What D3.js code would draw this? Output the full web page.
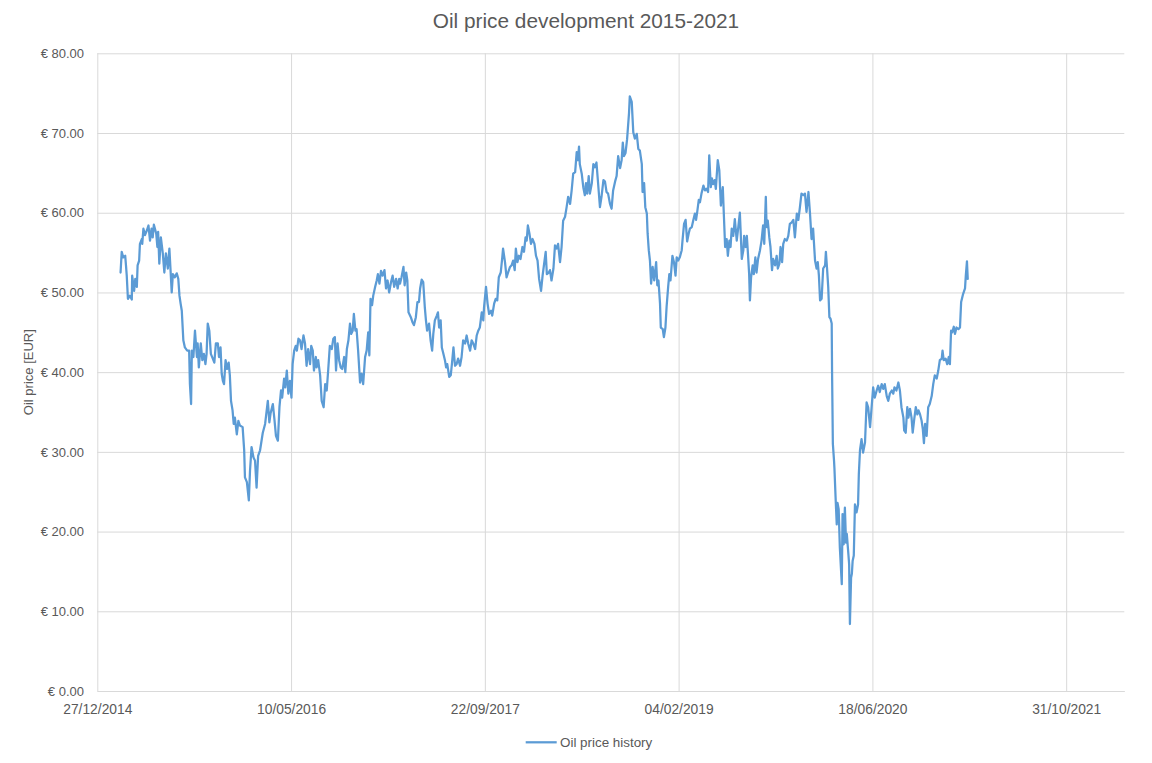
<!DOCTYPE html>
<html>
<head>
<meta charset="utf-8">
<script src="https://cdn.jsdelivr.net/npm/d3@7/dist/d3.min.js"></script>
<style>
  body { margin: 0; background: #ffffff; }
  svg { display: block; }
  text { font-family: 'Liberation Sans', Arial, sans-serif; fill: #595959; }
</style>
</head>
<body>
<svg id="chart" width="1152" height="763"></svg>
<script>
// ---------- data (dates as Excel serial numbers) ----------
const chartTitle = "Oil price development 2015-2021";
const yAxisTitle = "Oil price [EUR]";
const seriesName = "Oil price history";
const xTickSerials = [42000, 42500, 43000, 43500, 44000, 44500];
const yTickValues = [0, 10, 20, 30, 40, 50, 60, 70, 80];
const xDomainSerials = [42000, 44650];

const dateSerials = [
42060,42063,42067,42072,42074,42076,42079,42084,42089,42090,42095,42098,42102,42104,42108,42110,42115,42116,42119,42123,
42128,42132,42136,42140,42143,42146,42152,42155,42157,42160,42164,42169,42173,42177,42182,42186,42189,42192,42195,42200,
42205,42209,42212,42215,42218,42222,42226,42232,42237,42239,42242,42244,42248,42252,42257,42259,42262,42267,42271,42275,
42279,42282,42285,42289,42293,42298,42302,42306,42311,42314,42318,42321,42324,42327,42331,42335,42339,42342,42345,42349,
42352,42355,42360,42364,42368,42375,42379,42381,42386,42391,42394,42398,42403,42407,42411,42415,
42420,42427,42433,42440,42444,42447,42453,42457,42461,42466,42470,42474,42477,42482,42485,42489,42493,42497,42501,42504,
42508,42512,42515,42519,42523,42527,42532,42536,42540,42544,42549,42552,42556,42559,42564,42566,42570,42575,42579,42584,
42588,42592,42596,42600,42605,42609,42613,42616,42620,42624,42628,42632,42637,42640,42644,42648,42652,42655,42659,42662,
42666,42669,42673,42678,42682,42686,42691,42695,42699,42702,42705,42709,42712,42717,42721,42724,42728,42732,42736,42741,
42745,42749,42753,42758,42762,42766,42771,42775,42779,
42781,42785,42790,42793,42797,42800,42803,42809,42813,42817,42822,42826,42830,42833,42837,42841,42845,42848,42851,42856,
42860,42864,42867,42871,42876,42879,42882,42886,42889,42893,42897,42900,42903,42908,42912,42915,42919,42923,42927,42931,
42936,42940,42944,42949,42953,42957,42962,42966,42970,42975,42979,42983,42987,42992,42996,42998,43003,43007,43011,43016,
43019,43024,43028,43032,43036,43041,43045,43047,43052,43056,43060,43065,43069,43073,43077,43080,43084,43088,43092,43097,
43101,43105,43108,43111,43115,43119,43123,43128,43132,43136,43140,43145,43149,43153,43157,43160,43165,
43168,43172,43177,43181,43185,43189,43194,43198,43202,43207,43211,43215,43220,43224,43228,43233,43237,43240,43243,43245,
43250,43254,43258,43261,43264,43268,43271,43276,43280,43284,43288,43293,43297,43301,43306,43310,43314,43318,43323,43327,
43331,43336,43340,43344,43349,43353,43356,43359,43363,43367,43372,43374,43379,43383,43387,43392,43396,43400,43405,43407,
43411,43414,43418,43420,43423,43426,43429,43433,43437,43442,43445,43448,43452,43454,43459,43462,43466,43469,43473,43476,
43479,43484,43488,43492,43495,43499,43503,43508,43510,43514,43518,43522,43526,43529,43534,43538,43542,43545,43548,43552,
43555,43559,43564,43568,43572,43576,43579,43583,43586,43589,43593,43596,43601,43605,43609,43614,43617,43620,43624,43627,
43631,43634,43637,43641,43645,43650,43654,43658,43663,43667,43669,43673,43676,43679,43682,43684,43687,43691,43694,43698,
43701,43705,43710,43714,43718,43721,43725,43727,43730,43734,43737,43741,43744,43749,43753,43756,43760,43763,43767,43770,
43774,43779,43783,43787,43792,43796,43800,43805,43809,
43813,43817,43822,43826,43830,43835,43839,43843,43847,43852,43856,43859,43862,43865,43869,43873,43878,43880,43883,43886,
43889,43892,43895,43896,43898,43901,43902,43905,43908,43910,43913,43916,43921,43923,43926,43929,43932,43934,43938,43940,
43942,43945,43947,43949,43952,43955,43959,43963,43965,43968,
43972,43976,43981,43985,43989,43994,43998,44002,44006,44011,44015,44019,44024,44028,44032,44037,44041,44045,44050,44054,
44057,44062,44067,44071,44075,44080,44082,44086,44090,44093,44097,44101,44104,44108,44112,44116,44119,44123,44127,44130,
44133,44136,44140,44144,44148,44153,44157,44161,44166,44170,44174,44179,44181,44184,44189,44193,44197,44200,44203,44206,
44210,44213,44217,44222,44226,44229,44234,44239,44241,44244,44246
];

const prices = [
52.5,55.1,54.4,54.6,53.4,52.1,49.2,49.6,49.1,52.1,50.2,51.7,50.7,53.4,54.0,56.1,56.7,56.1,58.0,57.2,
57.8,58.4,56.5,58.0,56.9,58.5,57.4,55.7,57.6,53.6,56.9,54.9,52.5,54.9,53.0,55.5,52.8,50.0,52.3,51.9,
52.4,51.7,49.6,48.6,47.7,44.0,43.1,42.7,42.7,38.5,36.0,42.7,41.9,45.2,41.9,43.6,40.6,43.6,41.5,42.3,
41.0,42.3,46.1,45.2,42.3,41.7,41.2,43.6,43.6,41.9,43.1,39.8,38.9,38.5,41.5,40.4,41.2,39.6,36.4,35.2,
33.5,34.3,32.2,33.9,33.3,33.1,30.2,26.8,26.2,23.9,27.6,30.6,29.3,28.9,25.5,29.5,
30.2,32.4,33.5,36.4,33.7,34.8,36.0,34.1,32.0,31.4,35.6,37.7,36.8,39.2,38.1,40.2,37.3,38.9,36.8,41.0,
42.7,43.3,42.7,44.2,44.0,42.9,44.6,43.6,40.8,42.9,41.0,43.3,42.7,40.2,41.9,40.6,41.5,39.6,36.4,35.6,
38.5,37.7,40.4,43.3,42.9,44.2,44.4,40.2,43.6,41.5,40.6,40.4,41.9,40.0,42.9,44.0,46.1,44.8,45.2,47.3,
45.2,45.4,42.7,38.7,39.8,38.5,41.9,42.7,45.0,42.1,49.2,48.4,49.6,50.7,51.5,52.3,51.1,52.7,52.1,52.8,
50.5,51.5,50.0,51.3,52.1,50.7,51.7,50.5,51.7,
51.1,51.9,53.2,50.9,52.5,51.5,47.5,46.9,46.3,45.9,46.9,48.8,48.8,50.5,51.6,51.3,48.2,46.5,45.2,46.1,
44.0,42.7,44.8,46.5,47.1,47.5,45.6,46.5,43.1,42.3,41.5,40.6,41.0,39.4,39.6,41.0,43.1,40.8,41.0,41.7,
40.8,41.9,44.0,43.6,44.6,43.6,42.7,44.0,43.6,42.9,44.6,45.2,45.6,47.5,46.5,48.2,50.7,48.6,47.3,47.7,
47.1,48.6,49.2,49.0,51.9,52.5,54.4,55.5,53.8,51.9,52.5,53.2,53.4,54.0,52.8,55.5,53.8,54.6,54.2,55.7,
55.1,56.9,56.5,58.4,57.4,56.1,56.7,56.1,54.6,54.0,51.7,50.2,52.1,53.6,55.1,52.3,52.5,
52.8,51.5,53.0,55.9,55.5,56.1,53.8,55.7,59.0,59.5,60.7,62.0,61.1,62.8,64.9,65.1,67.6,66.6,68.3,66.1,
64.9,63.2,62.2,63.7,62.4,64.6,62.4,63.7,66.1,65.7,66.3,63.2,60.7,62.0,64.1,63.9,62.6,62.4,61.1,60.5,
62.8,63.9,64.6,67.1,65.6,66.6,68.8,67.1,67.5,69.2,72.5,74.6,73.9,70.1,69.3,69.9,68.0,67.8,66.1,62.6,
63.7,60.7,59.9,57.4,55.3,54.0,51.1,53.2,51.5,53.8,50.9,51.5,48.6,45.6,45.4,44.4,45.6,48.2,50.7,52.3,
51.5,54.6,53.8,52.1,54.4,54.0,54.4,55.3,56.5,58.6,59.1,56.4,57.4,58.0,58.2,59.1,59.9,59.1,60.1,61.6,
61.3,62.4,63.4,62.8,63.0,62.6,67.2,63.2,64.3,63.6,64.1,63.0,66.6,65.3,60.9,63.2,59.4,55.7,56.7,54.6,
56.5,55.7,58.0,57.1,59.2,56.5,58.2,60.0,54.2,55.3,57.1,55.7,57.1,54.8,52.3,49.0,51.9,53.4,52.3,54.4,
52.5,54.2,55.3,56.5,58.4,56.1,62.0,58.2,59.0,56.9,55.7,52.8,54.2,53.4,54.6,53.0,53.6,55.7,53.8,56.1,
56.7,56.5,57.1,58.6,58.8,59.1,56.9,59.9,59.1,
60.7,62.4,62.2,62.4,60.1,62.6,59.9,56.7,58.0,54.0,53.0,53.8,52.1,49.0,49.2,53.0,53.4,55.1,53.0,50.7,
46.9,46.7,46.1,39.8,31.0,28.9,28.0,24.3,20.9,23.6,22.8,18.0,13.4,22.2,18.4,23.0,18.6,19.7,17.2,15.9,
8.4,14.2,14.7,16.3,17.0,23.4,22.4,23.4,27.2,30.2,
31.6,29.9,31.2,36.2,35.6,33.1,35.6,38.1,36.8,37.7,38.3,37.5,38.5,37.9,38.5,37.0,36.4,37.3,37.7,37.3,
38.1,37.7,38.7,37.7,35.6,34.3,32.7,32.4,35.6,34.3,35.4,34.3,32.4,34.1,35.6,34.7,35.2,34.7,33.9,32.9,
31.1,33.5,32.0,35.6,36.0,37.0,38.5,39.6,39.2,40.2,41.5,41.7,42.7,41.5,41.7,41.0,41.9,41.0,45.2,45.0,
45.7,44.8,45.6,45.4,45.6,48.8,49.8,50.5,52.1,53.9,51.7
];

// ---------- layout ----------
const W = 1152, H = 763;
const plot = { left: 97.3, right: 1124.3, top: 53.3, bottom: 691 };
const lineColor = "#5B9BD5";
const gridColor = "#d9d9d9";

const svg = d3.select("#chart");

const x = d3.scaleLinear().domain(xDomainSerials).range([plot.left, plot.right]);
const y = d3.scaleLinear().domain([0, 80]).range([plot.bottom, plot.top]);

const excelEpoch = Date.UTC(1899, 11, 30);
const serialToDate = s => new Date(excelEpoch + s * 86400000);
const fmtDate = d3.utcFormat("%d/%m/%Y");
const fmtEuro = v => "\u20AC " + d3.format(".2f")(v);

// y axis with horizontal gridlines
const yAxis = svg.append("g")
  .attr("transform", `translate(${plot.left},0)`)
  .call(d3.axisLeft(y)
    .tickValues(yTickValues)
    .tickSizeInner(-(plot.right - plot.left))
    .tickSizeOuter(0)
    .tickPadding(13.3)
    .tickFormat(fmtEuro));
yAxis.select(".domain").remove();
yAxis.selectAll(".tick line").attr("stroke", gridColor).attr("stroke-width", 1);
yAxis.selectAll(".tick text")
  .style("font-family", "'Liberation Sans', Arial, sans-serif")
  .style("font-size", "13px")
  .attr("fill", "#595959");

// x axis with vertical gridlines
const xAxis = svg.append("g")
  .attr("transform", `translate(0,${plot.bottom})`)
  .call(d3.axisBottom(x)
    .tickValues(xTickSerials)
    .tickSizeInner(-(plot.bottom - plot.top))
    .tickSizeOuter(0)
    .tickPadding(13.5)
    .tickFormat(s => fmtDate(serialToDate(s))));
xAxis.select(".domain").attr("stroke", gridColor).attr("stroke-width", 1);
xAxis.selectAll(".tick line").attr("stroke", gridColor).attr("stroke-width", 1);
xAxis.selectAll(".tick text")
  .style("font-family", "'Liberation Sans', Arial, sans-serif")
  .style("font-size", "13.8px")
  .attr("fill", "#595959");

// series line
const series = dateSerials.map((s, i) => ({ s, v: prices[i] }));
const line = d3.line().x(d => x(d.s)).y(d => y(d.v));
svg.append("path")
  .datum(series)
  .attr("fill", "none")
  .attr("stroke", lineColor)
  .attr("stroke-width", 2.25)
  .attr("stroke-linejoin", "round")
  .attr("stroke-linecap", "round")
  .attr("d", line);

// title
svg.append("text")
  .attr("x", 586).attr("y", 27.5)
  .attr("text-anchor", "middle")
  .style("font-size", "20.8px")
  .text(chartTitle);

// y-axis title
svg.append("text")
  .attr("transform", `translate(32.5,${(plot.top + plot.bottom) / 2}) rotate(-90)`)
  .attr("text-anchor", "middle")
  .style("font-size", "13px")
  .text(yAxisTitle);

// legend
const legend = svg.append("g");
legend.append("line")
  .attr("x1", 525.7).attr("x2", 556.7)
  .attr("y1", 742.3).attr("y2", 742.3)
  .attr("stroke", lineColor).attr("stroke-width", 2.25);
legend.append("text")
  .attr("x", 560).attr("y", 747)
  .style("font-size", "13.4px")
  .text(seriesName);
</script>
</body>
</html>
